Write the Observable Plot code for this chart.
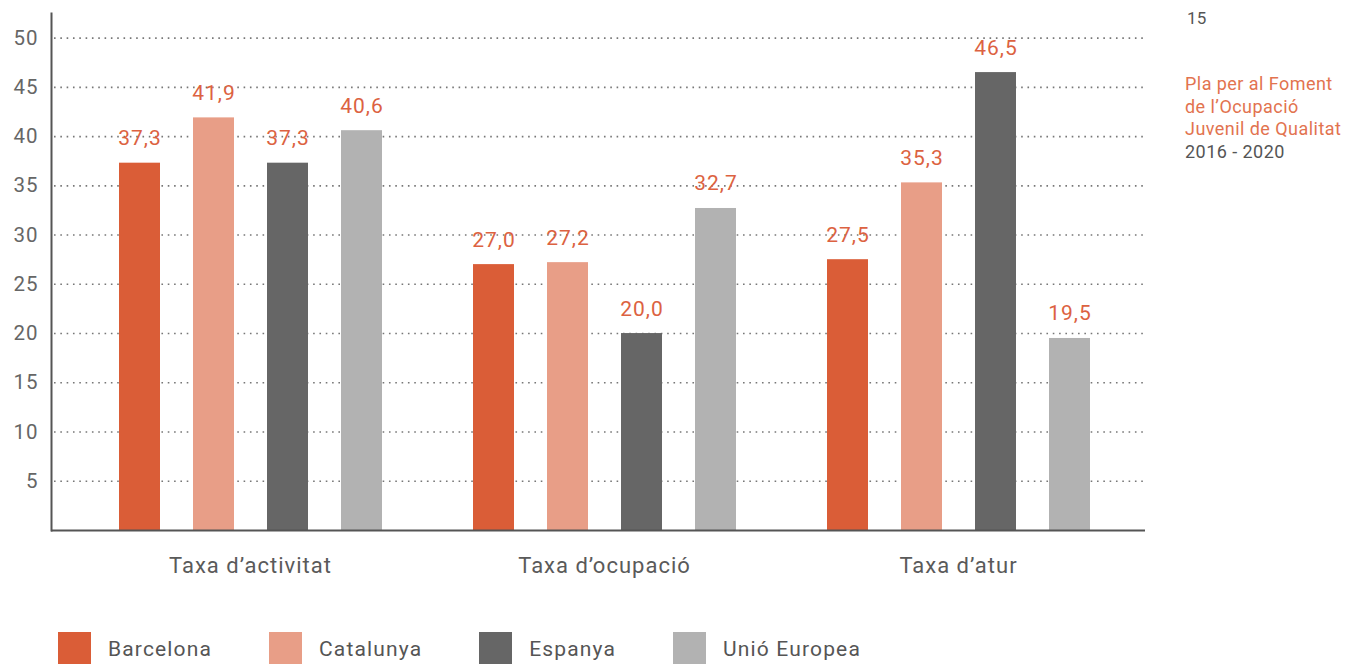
<!DOCTYPE html>
<html><head><meta charset="utf-8">
<script src="https://cdn.jsdelivr.net/npm/d3@7"></script>
<script src="https://cdn.jsdelivr.net/npm/@observablehq/plot@0.6"></script>
<style>
body{margin:0;background:#fff;font-family:Roboto,sans-serif;}
#wrap{position:relative;width:1348px;height:664px;overflow:hidden;background:#fff;}
#chart{position:absolute;left:0;top:0;}
#legend{position:absolute;left:58px;top:632px;display:flex;}
.item{display:flex;align-items:center;margin-right:57px;font-size:21px;letter-spacing:1.15px;color:#555;}
.sw{width:33px;height:34px;margin-right:17px;}
#page{position:absolute;left:1187px;top:8px;font-size:17px;line-height:20px;color:#555;letter-spacing:0.3px;}
#side{position:absolute;left:1185px;top:73px;font-size:18px;line-height:22.5px;color:#e2734f;letter-spacing:0.45px;}
#side .yr{color:#555;}
</style></head><body>
<div id="wrap"><div id="chart"></div><div id="legend"></div>
<div id="page">15</div>
<div id="side">Pla per al Foment<br>de l’Ocupació<br>Juvenil de Qualitat<br><span class="yr">2016 - 2020</span></div>
</div>
<script>
const groups = ["Taxa d’activitat", "Taxa d’ocupació", "Taxa d’atur"];
const series = ["Barcelona", "Catalunya", "Espanya", "Unió Europea"];
const colors = ["#da5d37", "#e89e87", "#666666", "#b2b2b2"];
const barcelona = [37.3, 27.0, 27.5];
const catalunya = [41.9, 27.2, 35.3];
const espanya = [37.3, 20.0, 46.5];
const unioEuropea = [40.6, 32.7, 19.5];
const yTicks = [5, 10, 15, 20, 25, 30, 35, 40, 45, 50];

const data = [];
[barcelona, catalunya, espanya, unioEuropea].forEach((vals, si) =>
  vals.forEach((v, gi) => data.push({group: groups[gi], series: series[si], value: v})));
const fmt = v => v.toFixed(1).replace(".", ",");
const last = groups.length - 1;

const gridMarks = groups.map((g, i) => Plot.ruleY(yTicks, {
  fx: () => g, stroke: "#777", strokeWidth: 1.6, strokeDasharray: "1.6,4.72",
  insetLeft: i === 0 ? -19 : 0, insetRight: i === last ? -10 : 0
}));
const baseMarks = groups.map((g, i) => Plot.ruleY([0], {
  fx: () => g, stroke: "#555", strokeWidth: 2,
  insetLeft: i === 0 ? -22 : 0, insetRight: i === last ? -10 : 0
}));

const chart = Plot.plot({
  width: 1348, height: 600,
  marginLeft: 73, marginRight: 213, marginTop: 13, marginBottom: 70,
  style: {fontSize: "20px", fontFamily: "Roboto, sans-serif", color: "#5f5f5f", letterSpacing: "1px", background: "white"},
  fx: {domain: groups, paddingInner: 0, paddingOuter: 0, axis: null},
  x: {domain: series, paddingInner: 0.449, paddingOuter: 0.6, axis: null},
  y: {domain: [0, 52.5], axis: null},
  color: {domain: series, range: colors},
  marks: [
    ...gridMarks,
    Plot.axisY(yTicks, {tickSize: 0, tickPadding: 35, tickFormat: d => String(d), fontSize: 20.5, fill: "#666", label: null}),
    Plot.axisFx({anchor: "bottom", tickSize: 0, tickPadding: 27, fontSize: 22, fill: "#5a5a5a", label: null, letterSpacing: "0.9px"}),
    Plot.barY(data, {fx: "group", x: "series", y1: 0, y2: "value", fill: "series"}),
    Plot.text(data, {fx: "group", x: "series", y: "value", text: d => fmt(d.value), dy: -18, lineAnchor: "bottom", fill: "#dc6241", fontSize: 21}),
    ...baseMarks,
    Plot.frame({anchor: "left", facet: "super", dx: -22, stroke: "#555", strokeWidth: 2})
  ]
});
document.getElementById("chart").appendChild(chart);

const legend = document.getElementById("legend");
series.forEach((s, i) => {
  const it = document.createElement("div");
  it.className = "item";
  it.innerHTML = `<div class="sw" style="background:${colors[i]}"></div><span>${s}</span>`;
  legend.appendChild(it);
});
</script>
</body></html>
